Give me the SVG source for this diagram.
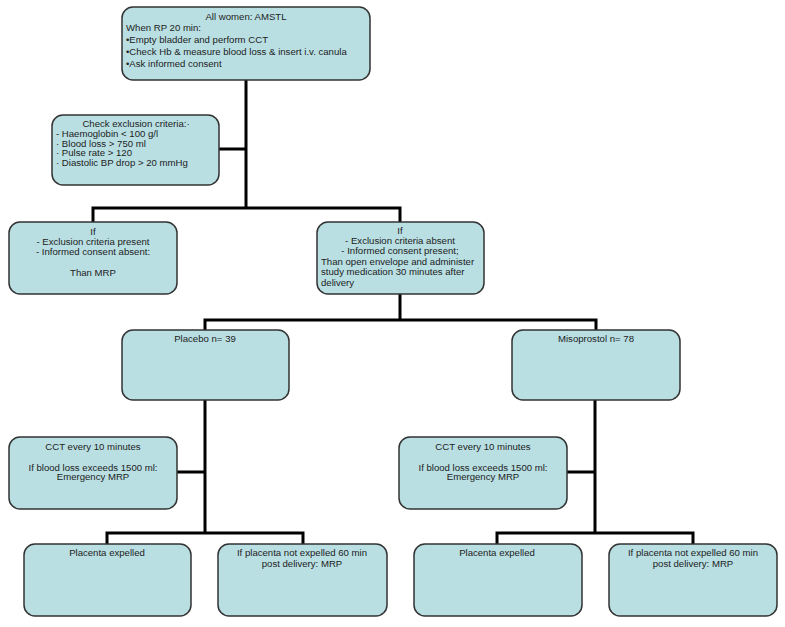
<svg xmlns="http://www.w3.org/2000/svg" width="785" height="627" viewBox="0 0 785 627">
<style>
.box{fill:#b9dfe3;stroke:#333;stroke-width:1.5}
.t{font-family:"Liberation Sans",Arial,sans-serif;font-size:9.6px;fill:#222}
.c{text-anchor:middle}
.conn{fill:none;stroke:#000;stroke-width:3}
</style>
<rect width="785" height="627" fill="#fff"/>
<g id="connectors">
<path class="conn" d="M246 80V208M219 149H246M93 222V208H400V222M400 294V320M205 330V320H596V330M205 400V533M177 472H205M107 544V533H303V544M595 400V533M567 472H595M497 544V533H693V544"/>
</g>
<g id="n1"><rect class="box" x="122" y="7" width="248" height="73" rx="11"/>
<text class="t c" x="246" y="20">All women: AMSTL</text>
<text class="t" x="126" y="31">When RP 20 min:</text>
<text class="t" x="126" y="43">•Empty bladder and perform CCT</text>
<text class="t" x="126" y="55">•Check Hb &amp; measure blood loss &amp; insert i.v. canula</text>
<text class="t" x="126" y="67">•Ask informed consent</text></g>
<g id="n2"><rect class="box" x="52" y="115" width="167" height="70" rx="11"/>
<text class="t c" x="136" y="127">Check exclusion criteria:·</text>
<text class="t" x="56" y="137">- Haemoglobin &lt; 100 g/l</text>
<text class="t" x="56" y="146.5">· Blood loss &gt; 750 ml</text>
<text class="t" x="56" y="156">· Pulse rate &gt; 120</text>
<text class="t" x="56" y="165.5">· Diastolic BP drop &gt; 20 mmHg</text></g>
<g id="n3"><rect class="box" x="9" y="222" width="168" height="72" rx="11"/>
<text class="t c" x="93" y="234.5">If</text>
<text class="t c" x="93" y="244.5">- Exclusion criteria present</text>
<text class="t c" x="93" y="255">- Informed consent absent:</text>
<text class="t c" x="93" y="275.5">Than MRP</text></g>
<g id="n4"><rect class="box" x="317" y="222" width="167" height="72" rx="11"/>
<text class="t c" x="400" y="234">If</text>
<text class="t c" x="400" y="244">- Exclusion criteria absent</text>
<text class="t c" x="400" y="254">- Informed consent present;</text>
<text class="t" x="321" y="265">Than open envelope and administer</text>
<text class="t" x="321" y="275">study medication 30 minutes after</text>
<text class="t" x="321" y="286">delivery</text></g>
<g id="n5"><rect class="box" x="122" y="330" width="167" height="70" rx="11"/>
<text class="t c" x="205" y="341.5">Placebo n= 39</text></g>
<g id="n6"><rect class="box" x="512" y="330" width="168" height="70" rx="11"/>
<text class="t c" x="596" y="341.5">Misoprostol n= 78</text></g>
<g id="n7"><rect class="box" x="9" y="437" width="168" height="72" rx="11"/>
<text class="t c" x="93" y="450">CCT every 10 minutes</text>
<text class="t c" x="93" y="470.5">If blood loss exceeds 1500 ml:</text>
<text class="t c" x="93" y="480">Emergency MRP</text></g>
<g id="n8"><rect class="box" x="399" y="437" width="168" height="72" rx="11"/>
<text class="t c" x="483" y="450">CCT every 10 minutes</text>
<text class="t c" x="483" y="470.5">If blood loss exceeds 1500 ml:</text>
<text class="t c" x="483" y="480">Emergency MRP</text></g>
<g id="n9"><rect class="box" x="24" y="544" width="167" height="72" rx="11"/>
<text class="t c" x="107" y="555.5">Placenta expelled</text></g>
<g id="n10"><rect class="box" x="218" y="544" width="169" height="72" rx="11"/>
<text class="t c" x="302" y="555.5">If placenta not expelled 60 min</text>
<text class="t c" x="302" y="567">post delivery: MRP</text></g>
<g id="n11"><rect class="box" x="414" y="544" width="168" height="72" rx="11"/>
<text class="t c" x="497" y="555.5">Placenta expelled</text></g>
<g id="n12"><rect class="box" x="609" y="544" width="168" height="72" rx="11"/>
<text class="t c" x="693" y="555.5">If placenta not expelled 60 min</text>
<text class="t c" x="693" y="567">post delivery: MRP</text></g>
</svg>
